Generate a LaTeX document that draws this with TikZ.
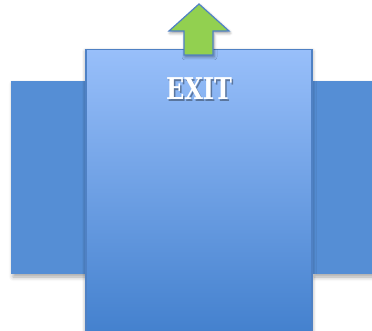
\documentclass[tikz,border=0pt]{standalone}
\usepackage{fontspec}
\setmainfont{Liberation Serif}
\newfontfamily\exitfont{DejaVu Serif}
\usetikzlibrary{shadows.blur}
\definecolor{panelblue}{RGB}{85,142,213}
\definecolor{edgeblue}{RGB}{79,129,196}
\definecolor{boxtop}{RGB}{152,191,250}
\definecolor{boxbot}{RGB}{64,126,204}
\definecolor{arrowgreen}{RGB}{146,208,80}
\begin{document}
\begin{tikzpicture}[x=1pt, y=-1pt,
  panel/.style={fill=panelblue, blur shadow={shadow xshift=2pt, shadow yshift=-3pt,
                shadow blur radius=4pt, shadow opacity=35}},
  exitbox/.style={draw=edgeblue, line width=1.2pt, top color=boxtop, bottom color=boxbot,
                  blur shadow={shadow xshift=0pt, shadow yshift=-2pt,
                  shadow blur radius=4pt, shadow opacity=45}},
  uparrow/.style={draw=edgeblue, line width=1.2pt, fill=arrowgreen, line join=miter,
                  blur shadow={shadow xshift=1pt, shadow yshift=-2pt,
                  shadow blur radius=3pt, shadow opacity=40}},
  lbl/.style={font=\exitfont\bfseries\fontsize{30}{30}\selectfont, text=white, inner sep=0pt}]
\useasboundingbox (0,0) rectangle (372,331);
\clip (0,0) rectangle (372,331);
% side panels
\path[panel] (11,81) rectangle (86,274);
\path[panel] (312,81) rectangle (385,274);
% the exit box
\path[exitbox] (86,49.5) rectangle (312,345);
% arrow on top
\path[uparrow] (184,55) -- (184,31) -- (169,31) -- (199,4) -- (229,31)
  -- (213,31) -- (213,55) -- cycle;
% label with its shadow
\node[lbl, text=black, opacity=0.35] (exitshadow) at (200.5,90.5) {\scalebox{0.8}[1]{EXIT}};
\node[lbl] (exit) at (199,89) {\scalebox{0.8}[1]{EXIT}};
\end{tikzpicture}
\end{document}
